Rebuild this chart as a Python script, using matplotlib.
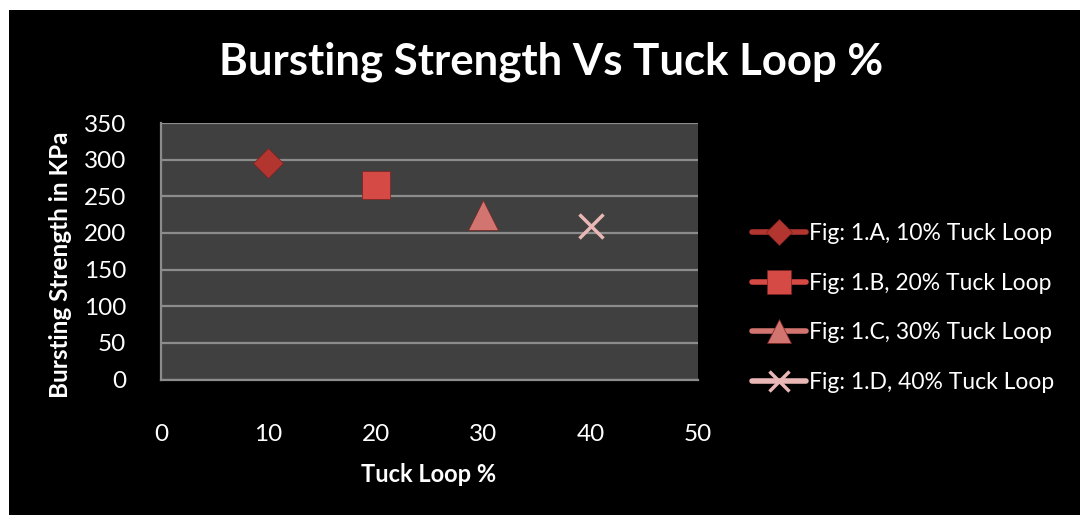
import matplotlib
matplotlib.use("Agg")
import matplotlib.pyplot as plt
from matplotlib.patches import Rectangle
from matplotlib.lines import Line2D

title = "Bursting Strength Vs Tuck Loop %"
x_label = "Tuck Loop %"
y_label = "Bursting Strength in KPa"
series_names = ["Fig: 1.A, 10% Tuck Loop", "Fig: 1.B, 20% Tuck Loop",
                "Fig: 1.C, 30% Tuck Loop", "Fig: 1.D, 40% Tuck Loop"]
tuck_loop = [10, 20, 30, 40]
bursting = [295, 265, 225, 210]
x_ticks = [0, 10, 20, 30, 40, 50]
y_ticks = [0, 50, 100, 150, 200, 250, 300, 350]

markers = ["D", "s", "^", "x"]
colors = ["#b3352f", "#d64a45", "#d27470", "#e9b7b5"]
msizes = [15, 20, 21, 17]

plt.rcParams['font.family'] = ['Lato', 'DejaVu Sans']

W, H = 1080, 515
fig = plt.figure(figsize=(W / 100, H / 100), dpi=100, facecolor="white")
fig.patches.append(Rectangle((9 / W, 0), 1 - 9 / W, 1 - 10 / H,
                             transform=fig.transFigure, facecolor="black",
                             edgecolor="none", zorder=-10))

ax = fig.add_axes([161 / W, 1 - 379.5 / H, (698 - 161) / W, (379.5 - 123) / H])
ax.set_facecolor("#404040")
ax.set_xlim(0, 50)
ax.set_ylim(0, 350)
ax.set_xticks(x_ticks)
ax.set_yticks(y_ticks)
ax.tick_params(axis="y", length=0, colors="white", labelsize=17.5, pad=25)
ax.tick_params(axis="x", length=0, colors="white", labelsize=17.5, pad=32)
for lbl in ax.get_xticklabels() + ax.get_yticklabels():
    lbl.set_color("white")
ax.grid(axis="y", color="#8c8c8c", lw=1.6)
ax.set_axisbelow(True)
for s in ["top", "right"]:
    ax.spines[s].set_visible(False)
for s in ["left", "bottom"]:
    ax.spines[s].set_color("#8c8c8c")
    ax.spines[s].set_linewidth(1.6)

handles = []
for i in range(4):
    is_x = markers[i] == "x"
    mew = 2.5 if is_x else 0.5
    edge = colors[i] if is_x else "#7a2320"
    ax.plot([tuck_loop[i]], [bursting[i]], marker=markers[i], linestyle="none",
            markersize=msizes[i], color=colors[i], markeredgecolor=edge,
            markeredgewidth=mew, zorder=5, clip_on=False)
    handles.append(Line2D([0], [0], color=colors[i], lw=4, marker=markers[i],
                          markersize=msizes[i] * 0.85, markeredgewidth=mew,
                          markeredgecolor=edge, solid_capstyle="round"))

fig.text(551 / W, 1 - 62 / H, title, color="white", fontsize=31.5,
         fontweight="bold", ha="center", va="center")
fig.text(429 / W, 1 - 475 / H, x_label, color="white", fontsize=17,
         fontweight="bold", ha="center", va="center")
fig.text(61 / W, 1 - 265 / H, y_label, color="white", fontsize=17.5,
         fontweight="bold", ha="center", va="center", rotation=90)

leg = fig.legend(handles, series_names, loc="center left",
                 bbox_to_anchor=(752 / W, 1 - 308 / H), frameon=False,
                 fontsize=16.5, labelcolor="white", handlelength=2.35,
                 handletextpad=0.15, labelspacing=1.25,
                 borderpad=0, borderaxespad=0)

fig.savefig("out.png", dpi=100, facecolor="white")
